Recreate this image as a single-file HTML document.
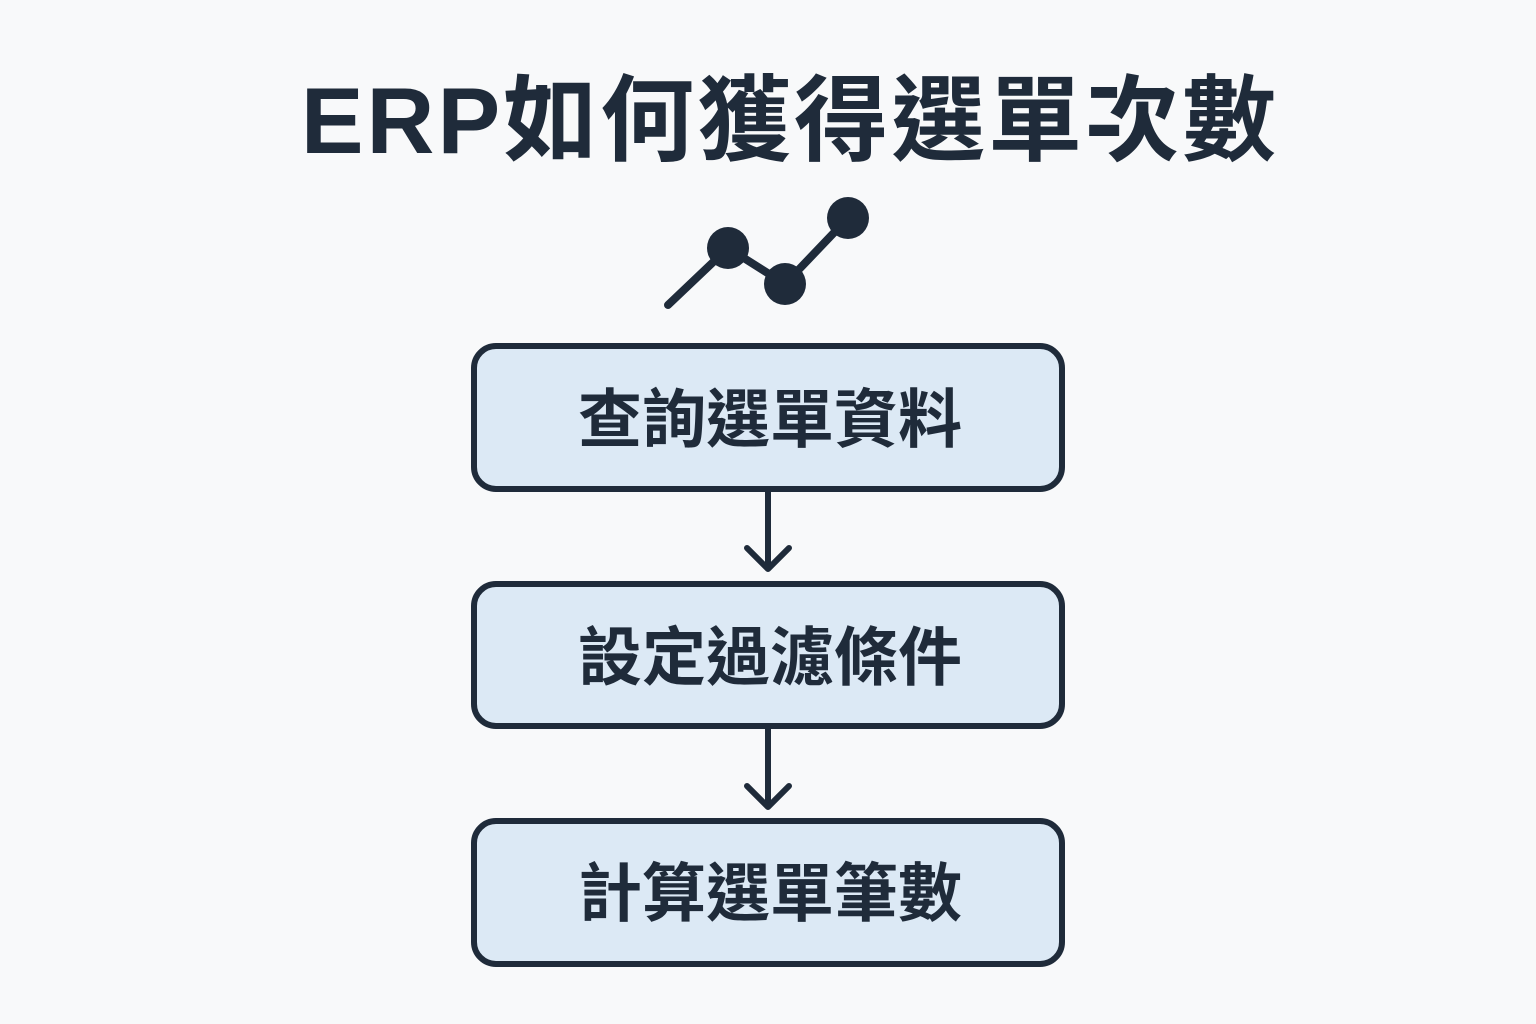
<!DOCTYPE html>
<html><head><meta charset="utf-8"><style>
html,body{margin:0;padding:0;background:#f8f9fa;}
svg{display:block}
text{font-family:"Liberation Sans","Noto Sans CJK TC",sans-serif;font-weight:bold;fill:#1f2b3a}
</style></head><body>
<svg width="1536" height="1024" viewBox="0 0 1536 1024" xmlns="http://www.w3.org/2000/svg">
<rect width="1536" height="1024" fill="#f8f9fa"/>
<text x="790" y="153" font-size="94" text-anchor="middle" letter-spacing="3">ERP如何獲得選單次數</text>
<g stroke="#1f2b3a" stroke-width="8" fill="none" stroke-linecap="round" stroke-linejoin="round">
<polyline points="668,305 728,248 785,284 848,218"/>
</g>
<g fill="#1f2b3a">
<circle cx="728" cy="248" r="21"/>
<circle cx="785" cy="284" r="21"/>
<circle cx="848" cy="218" r="21"/>
</g>
<g stroke="#1f2b3a" stroke-width="6" fill="#dce9f5">
<rect x="474" y="346" width="588" height="143" rx="22"/>
<rect x="474" y="584" width="588" height="142" rx="22"/>
<rect x="474" y="821" width="588" height="143" rx="22"/>
</g>
<g stroke="#1f2b3a" stroke-width="6" fill="none" stroke-linecap="round" stroke-linejoin="round">
<line x1="768" y1="492" x2="768" y2="568"/>
<polyline points="747,548 768,569 789,548"/>
<line x1="768" y1="729" x2="768" y2="806"/>
<polyline points="747,786 768,807 789,786"/>
</g>
<text x="770" y="442" font-size="64" text-anchor="middle">查詢選單資料</text>
<text x="770" y="680" font-size="64" text-anchor="middle">設定過濾條件</text>
<text x="770" y="916" font-size="64" text-anchor="middle">計算選單筆數</text>
</svg>
</body></html>
